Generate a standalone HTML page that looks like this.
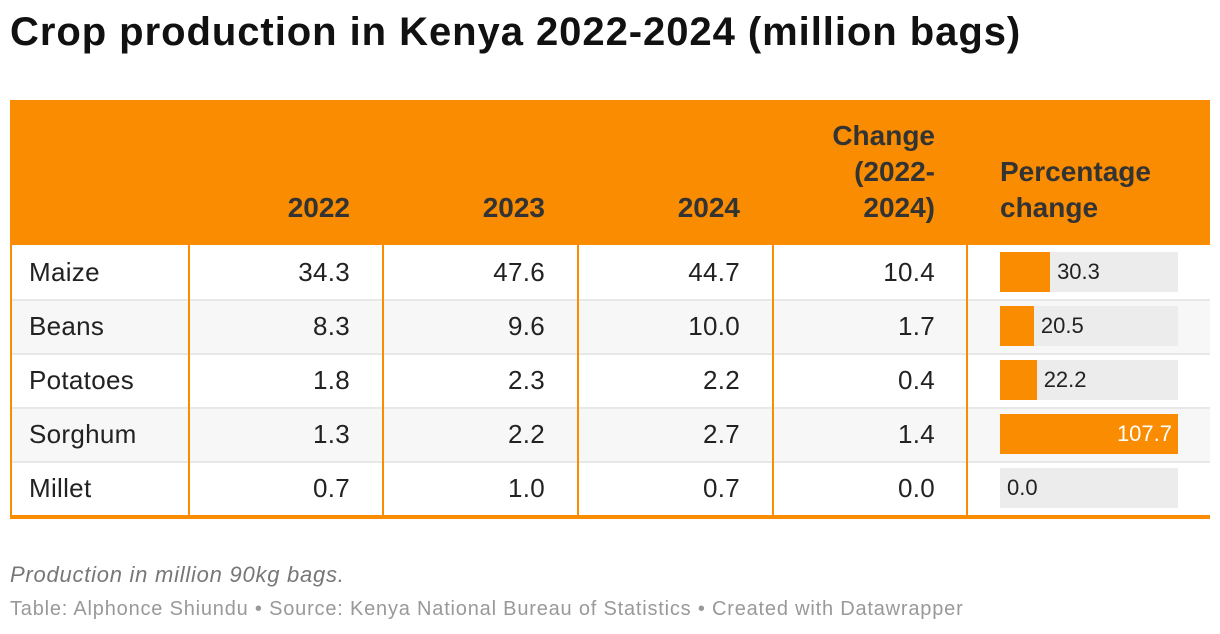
<!DOCTYPE html>
<html><head><meta charset="utf-8">
<style>
body{margin:0;width:1220px;height:634px;background:#fff;font-family:"Liberation Sans",Arial,sans-serif;position:relative;overflow:hidden}
.abs{position:absolute}
#title{left:10px;top:10px;font-size:40px;font-weight:bold;color:#111;letter-spacing:0.95px;white-space:nowrap}
#header{left:10px;top:100px;width:1200px;height:145px;background:#f98c00}
.hd{position:absolute;font-weight:bold;font-size:28px;color:#333;line-height:36px;text-align:right;white-space:nowrap}
.cell{position:absolute;font-size:26px;color:#222;line-height:54px;letter-spacing:0.3px}
.vline{position:absolute;width:2px;background:#f98c00}
.bar-bg{position:absolute;background:#ececec}
.bar{position:absolute;background:#f98c00}
.bl{position:absolute;font-size:22px;line-height:40px;color:#222}
#note{left:10px;top:562px;font-size:22px;font-style:italic;color:#777;letter-spacing:0.75px;white-space:nowrap}
#src{left:10px;top:598px;font-size:20px;color:#999;letter-spacing:0.8px;white-space:nowrap}
</style></head><body>
<div id="title" class="abs">Crop production in Kenya 2022-2024 (million bags)</div>
<div id="header" class="abs">
 <div class="hd" style="left:140px;width:200px;top:90px">2022</div>
 <div class="hd" style="left:335px;width:200px;top:90px">2023</div>
 <div class="hd" style="left:530px;width:200px;top:90px">2024</div>
 <div class="hd" style="left:725px;width:200px;top:18px">Change<br>(2022-<br>2024)</div>
 <div class="hd" style="left:990px;width:200px;top:54px;text-align:left">Percentage<br>change</div>
</div>
<div id="tbody" class="abs" style="left:0;top:0"></div>
<div id="note" class="abs">Production in million 90kg bags.</div>
<div id="src" class="abs">Table: Alphonce Shiundu • Source: Kenya National Bureau of Statistics • Created with Datawrapper</div>
<script>
const crops=["Maize","Beans","Potatoes","Sorghum","Millet"];
const v2022=[34.3,8.3,1.8,1.3,0.7];
const v2023=[47.6,9.6,2.3,2.2,1.0];
const v2024=[44.7,10.0,2.2,2.7,0.7];
const change=[10.4,1.7,0.4,1.4,0.0];
const pct=[30.3,20.5,22.2,107.7,0.0];

const tb=document.getElementById('tbody');
const top0=245,rh=54,barX=1000,barW=178;
const maxPct=Math.max(...pct);
function mk(cls,style,txt){const d=document.createElement('div');d.className=cls;d.style.cssText=style;if(txt!==undefined)d.textContent=txt;tb.appendChild(d);return d;}
crops.forEach((c,i)=>{
  const y=top0+i*rh;
  const row=mk('abs',`left:10px;top:${y}px;width:1200px;height:${rh}px;background:${i%2?'#f7f7f7':'#fff'};border-top:${i?'2px solid #e8e8e8':'none'};box-sizing:border-box`);
  
  
  const lab=mk('cell',`left:29px;top:${y}px`,c);
  
  
  [[v2022,350],[v2023,545],[v2024,740],[change,935]].forEach(([arr,rx])=>{
    const d=mk('cell',`left:${rx-150}px;width:150px;text-align:right;top:${y}px`,arr[i].toFixed(1));
    
    
  });
  const bg=mk('bar-bg',`left:${barX}px;top:${y+7}px;width:${barW}px;height:40px`);
  
  
  const w=pct[i]/maxPct*barW;
  const b=mk('bar',`left:${barX}px;top:${y+7}px;width:${w}px;height:40px`);
  
  
  const full=w>barW-60;
  const t=mk('bl',full?`left:${barX}px;width:${barW-6}px;text-align:right;color:#fff;top:${y+7}px`:`left:${barX+w+7}px;top:${y+7}px`,pct[i].toFixed(1));
  
  
});
const bodyH=crops.length*rh;
[10,188,382,577,772,966].forEach(x=>{
  const l=mk('vline',`left:${x}px;top:${top0}px;height:${bodyH}px`);
  
  
});
const bb=mk('abs',`left:10px;top:${top0+bodyH}px;width:1200px;height:4px;background:#f98c00`);


</script>
</body></html>
